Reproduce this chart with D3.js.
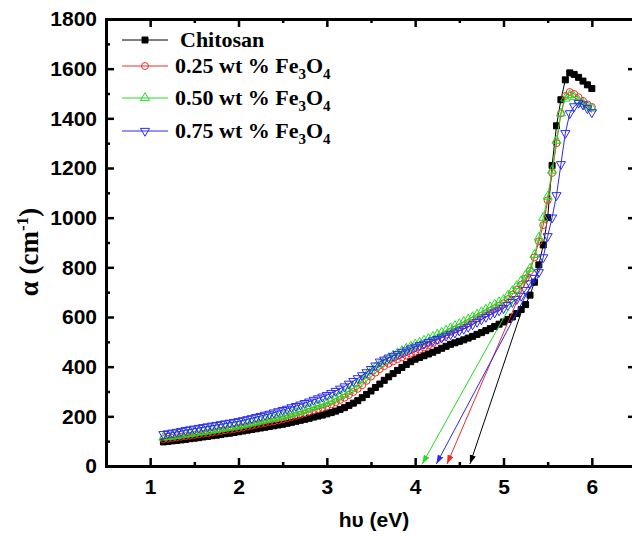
<!DOCTYPE html>
<html>
<head>
<meta charset="utf-8">
<script src="https://cdn.jsdelivr.net/npm/d3@7"></script>
<style>
body { margin: 0; background: #ffffff; }
svg { display: block; }
</style>
</head>
<body>
<div id="chart"></div>
<script>
// photon energy (eV), shared by all series
var energy = [
    1.15, 1.20, 1.25, 1.30, 1.35, 1.40, 1.45, 1.50, 1.55, 1.60,
    1.65, 1.70, 1.75, 1.80, 1.85, 1.90, 1.95, 2.00, 2.05, 2.10,
    2.15, 2.20, 2.25, 2.30, 2.35, 2.40, 2.45, 2.50, 2.55, 2.60,
    2.65, 2.70, 2.75, 2.80, 2.85, 2.90, 2.95, 3.00, 3.05, 3.10,
    3.15, 3.20, 3.25, 3.30, 3.35, 3.40, 3.45, 3.50, 3.55, 3.60,
    3.65, 3.70, 3.75, 3.80, 3.85, 3.90, 3.95, 4.00, 4.05, 4.10,
    4.15, 4.20, 4.25, 4.30, 4.35, 4.40, 4.45, 4.50, 4.55, 4.60,
    4.65, 4.70, 4.75, 4.80, 4.85, 4.90, 4.95, 5.00, 5.05, 5.10,
    5.15, 5.20, 5.25, 5.30, 5.35, 5.40, 5.45, 5.50, 5.55, 5.60,
    5.65, 5.70, 5.75, 5.80, 5.85, 5.90, 5.95, 6.00
];

// absorption coefficient (cm-1)
var chitosan = [
    97, 99, 101, 103, 105, 107, 110, 112, 114, 117,
    119, 122, 124, 127, 130, 132, 135, 138, 141, 144,
    147, 150, 153, 156, 159, 162, 165, 168, 172, 176,
    180, 184, 188, 192, 197, 201, 205, 210, 215, 221,
    228, 235, 244, 253, 263, 275, 288, 302, 316, 330,
    345, 359, 372, 385, 397, 409, 420, 430, 437, 444,
    451, 458, 466, 474, 482, 490, 496, 502, 508, 515,
    522, 530, 537, 545, 553, 562, 571, 580, 590, 600,
    614, 630, 650, 688, 740, 810, 890, 1000, 1210, 1370,
    1475, 1555, 1583, 1577, 1565, 1550, 1535, 1520
];
var fe025 = [
    108, 110, 113, 115, 118, 120, 122, 125, 127, 130,
    132, 135, 138, 141, 144, 146, 149, 152, 155, 159,
    162, 166, 170, 173, 177, 180, 184, 188, 192, 197,
    202, 207, 212, 218, 224, 229, 234, 240, 248, 257,
    266, 275, 286, 298, 311, 325, 343, 360, 376, 390,
    402, 412, 421, 430, 437, 445, 452, 460, 468, 477,
    486, 495, 506, 517, 529, 540, 549, 558, 566, 575,
    585, 595, 605, 615, 625, 635, 645, 655, 672, 690,
    710, 730, 755, 785, 840, 905, 970, 1070, 1180, 1300,
    1420, 1490, 1506, 1498, 1485, 1470, 1456, 1446
];
var fe050 = [
    115, 117, 119, 122, 124, 127, 129, 132, 135, 137,
    140, 143, 146, 149, 152, 155, 157, 160, 164, 168,
    172, 176, 180, 184, 188, 192, 196, 200, 205, 210,
    215, 220, 226, 232, 238, 244, 249, 255, 263, 272,
    281, 290, 302, 315, 330, 345, 364, 382, 397, 410,
    423, 435, 445, 455, 464, 473, 481, 490, 497, 505,
    512, 520, 529, 537, 546, 555, 564, 572, 581, 590,
    600, 610, 620, 630, 640, 650, 660, 670, 687, 705,
    725, 745, 768, 795, 850, 920, 1000, 1085, 1190, 1310,
    1420, 1480, 1494, 1486, 1472, 1460, 1449, 1440
];
var fe075 = [
    128, 131, 134, 137, 140, 144, 147, 150, 153, 156,
    159, 162, 165, 168, 171, 174, 177, 180, 184, 188,
    192, 197, 201, 206, 210, 215, 220, 225, 230, 236,
    241, 247, 253, 259, 266, 272, 279, 285, 293, 302,
    311, 320, 331, 342, 353, 365, 377, 390, 404, 420,
    428, 436, 443, 450, 458, 465, 473, 480, 486, 492,
    499, 505, 511, 517, 524, 530, 537, 545, 552, 560,
    570, 580, 590, 600, 609, 618, 626, 635, 647, 660,
    672, 685, 708, 735, 757, 780, 840, 925, 1000, 1090,
    1215, 1340, 1420, 1448, 1462, 1455, 1440, 1424
];

var seriesLabels = ["Chitosan", "0.25 wt % Fe3O4", "0.50 wt % Fe3O4", "0.75 wt % Fe3O4"];

// extrapolation arrows: start point on the curve, end at band gap on the axis
var arrowStartE = [5.23, 5.30, 5.32, 5.40];
var arrowStartA = [650, 785, 800, 785];
var bandGap = [4.62, 4.36, 4.08, 4.24];

var xTickValues = [1, 2, 3, 4, 5, 6];
var xMinorValues = [1.5, 2.5, 3.5, 4.5, 5.5, 6.5];
var yTickValues = [0, 200, 400, 600, 800, 1000, 1200, 1400, 1600, 1800];
var yMinorValues = [100, 300, 500, 700, 900, 1100, 1300, 1500, 1700];

var colors = ["#000000", "#f02a2a", "#22dd22", "#2a2af0"];
var symbols = [d3.symbolSquare, d3.symbolCircle, d3.symbolTriangle, d3.symbolTriangle];

// set the dimensions and margins of the graph
var margin = {
        top: 19,
        left: 106
    },
    width = 530,
    height = 447;

var svg = d3.select("#chart")
    .append("svg")
    .attr("width", 632)
    .attr("height", 537);

var g = svg.append("g")
    .attr("transform", "translate(" + margin.left + "," + margin.top + ")");

var x = d3.scaleLinear()
    .domain([0.5, 6.5])
    .range([0, width]);

var y = d3.scaleLinear()
    .domain([0, 1800])
    .range([height, 0]);

var allSeries = [chitosan, fe025, fe050, fe075].map(function(vals, i) {
    return {
        name: seriesLabels[i],
        color: colors[i],
        symbol: symbols[i],
        filled: i == 0,
        flip: i == 3,
        points: energy.map(function(e, j) {
            return { e: e, a: vals[j] };
        })
    };
});

function drawMarker(sel, s) {
    sel.attr("d", d3.symbol().type(s.symbol).size(s.symbol == d3.symbolCircle ? 38 : 36))
        .style("fill", s.filled ? s.color : "none")
        .style("stroke", s.color)
        .style("stroke-width", 1);
}

// curves
var line = d3.line()
    .x(function(d) { return x(d.e); })
    .y(function(d) { return y(d.a); });

allSeries.forEach(function(s) {
    g.append("path")
        .datum(s.points)
        .attr("d", line)
        .style("fill", "none")
        .style("stroke", s.color)
        .style("stroke-width", 1);

    g.selectAll(".pt")
        .data(s.points)
        .enter()
        .append("path")
        .call(drawMarker, s)
        .attr("transform", function(d) {
            return "translate(" + x(d.e) + "," + y(d.a) + ")" + (s.flip ? " rotate(180)" : "");
        });
});

// arrow heads
var defs = svg.append("defs");
colors.forEach(function(c, i) {
    defs.append("marker")
        .attr("id", "arr" + i)
        .attr("viewBox", "0 0 10 7")
        .attr("markerUnits", "userSpaceOnUse")
        .attr("markerWidth", 9)
        .attr("markerHeight", 6.3)
        .attr("refX", 10)
        .attr("refY", 3.5)
        .attr("orient", "auto")
        .append("path")
        .attr("d", "M0,0 L10,3.5 L0,7 z")
        .style("fill", c);
});

bandGap.forEach(function(bg, i) {
    g.append("line")
        .attr("x1", x(arrowStartE[i]))
        .attr("y1", y(arrowStartA[i]))
        .attr("x2", x(bg))
        .attr("y2", y(0) - 2)
        .style("stroke", colors[i])
        .style("stroke-width", 1)
        .attr("marker-end", "url(#arr" + i + ")");
});

// axes
var fontAxis = "'Liberation Sans', Arial, sans-serif";

function styleAxis(a) {
    a.selectAll("path.domain").style("stroke", "#000").style("stroke-width", 3).style("stroke-linecap", "square");
    a.selectAll(".tick line").style("stroke", "#000").style("stroke-width", 2.5);
    a.selectAll(".tick text")
        .style("font-family", fontAxis)
        .style("font-weight", "bold")
        .style("font-size", "21px")
        .style("fill", "#000");
}

var xAxis = g.append("g")
    .attr("transform", "translate(0," + height + ")")
    .call(d3.axisBottom(x).tickValues(xTickValues).tickSize(-8).tickSizeOuter(0).tickPadding(13).tickFormat(d3.format("d")));
styleAxis(xAxis);

var xMinor = g.append("g")
    .attr("transform", "translate(0," + height + ")")
    .call(d3.axisBottom(x).tickValues(xMinorValues).tickSize(-4).tickFormat(""));
xMinor.select(".domain").remove();
styleAxis(xMinor);

var xTop = g.append("g")
    .call(d3.axisTop(x).tickValues(xTickValues).tickSize(-8).tickSizeOuter(0).tickFormat(""));
styleAxis(xTop);

var xTopMinor = g.append("g")
    .call(d3.axisTop(x).tickValues(xMinorValues).tickSize(-4).tickFormat(""));
xTopMinor.select(".domain").remove();
styleAxis(xTopMinor);

var yAxis = g.append("g")
    .call(d3.axisLeft(y).tickValues(yTickValues).tickSize(-8).tickSizeOuter(0).tickPadding(9).tickFormat(d3.format("d")));
styleAxis(yAxis);

var yMinor = g.append("g")
    .call(d3.axisLeft(y).tickValues(yMinorValues).tickSize(-4).tickFormat(""));
yMinor.select(".domain").remove();
styleAxis(yMinor);

var yRight = g.append("g")
    .attr("transform", "translate(" + width + ",0)")
    .call(d3.axisRight(y).tickValues(yTickValues).tickSize(-8).tickSizeOuter(0).tickFormat(""));
styleAxis(yRight);

// axis titles
svg.append("text")
    .attr("x", margin.left + width / 2 + 3)
    .attr("y", 527)
    .attr("text-anchor", "middle")
    .style("font-family", fontAxis)
    .style("font-weight", "bold")
    .style("font-size", "21px")
    .text("h\u03c5 (eV)");

var yTitle = svg.append("text")
    .attr("transform", "translate(38,252) rotate(-90)")
    .attr("text-anchor", "middle")
    .style("font-family", "'Liberation Serif', 'Times New Roman', serif")
    .style("font-weight", "bold")
    .style("font-size", "27px");
yTitle.append("tspan").text("\u03b1 (cm");
yTitle.append("tspan").attr("dy", -10).style("font-size", "17px").text("-1");
yTitle.append("tspan").attr("dy", 10).text(")");

// legend
var rowY = [40, 66, 98, 131];
var legend = svg.append("g");

allSeries.forEach(function(s, i) {
    legend.append("line")
        .attr("x1", 122)
        .attr("x2", 168)
        .attr("y1", rowY[i])
        .attr("y2", rowY[i])
        .style("stroke", s.color)
        .style("stroke-width", 1);

    legend.append("path")
        .call(drawMarker, s)
        .attr("transform", "translate(145," + rowY[i] + ")" + (s.flip ? " rotate(180)" : ""));

    var t = legend.append("text")
        .attr("x", i == 0 ? 180 : 175)
        .attr("y", rowY[i] + 7)
        .style("font-family", "'Liberation Serif', 'Times New Roman', serif")
        .style("font-weight", "bold")
        .style("font-size", "22px")
        .style("fill", "#000");

    var k = s.name.indexOf("Fe3O4");
    if (k < 0) {
        t.text(s.name);
    } else {
        t.append("tspan").text(s.name.slice(0, k) + "Fe");
        t.append("tspan").attr("dy", 6).style("font-size", "15px").text("3");
        t.append("tspan").attr("dy", -6).text("O");
        t.append("tspan").attr("dy", 6).style("font-size", "15px").text("4");
    }
});
</script>
</body>
</html>
